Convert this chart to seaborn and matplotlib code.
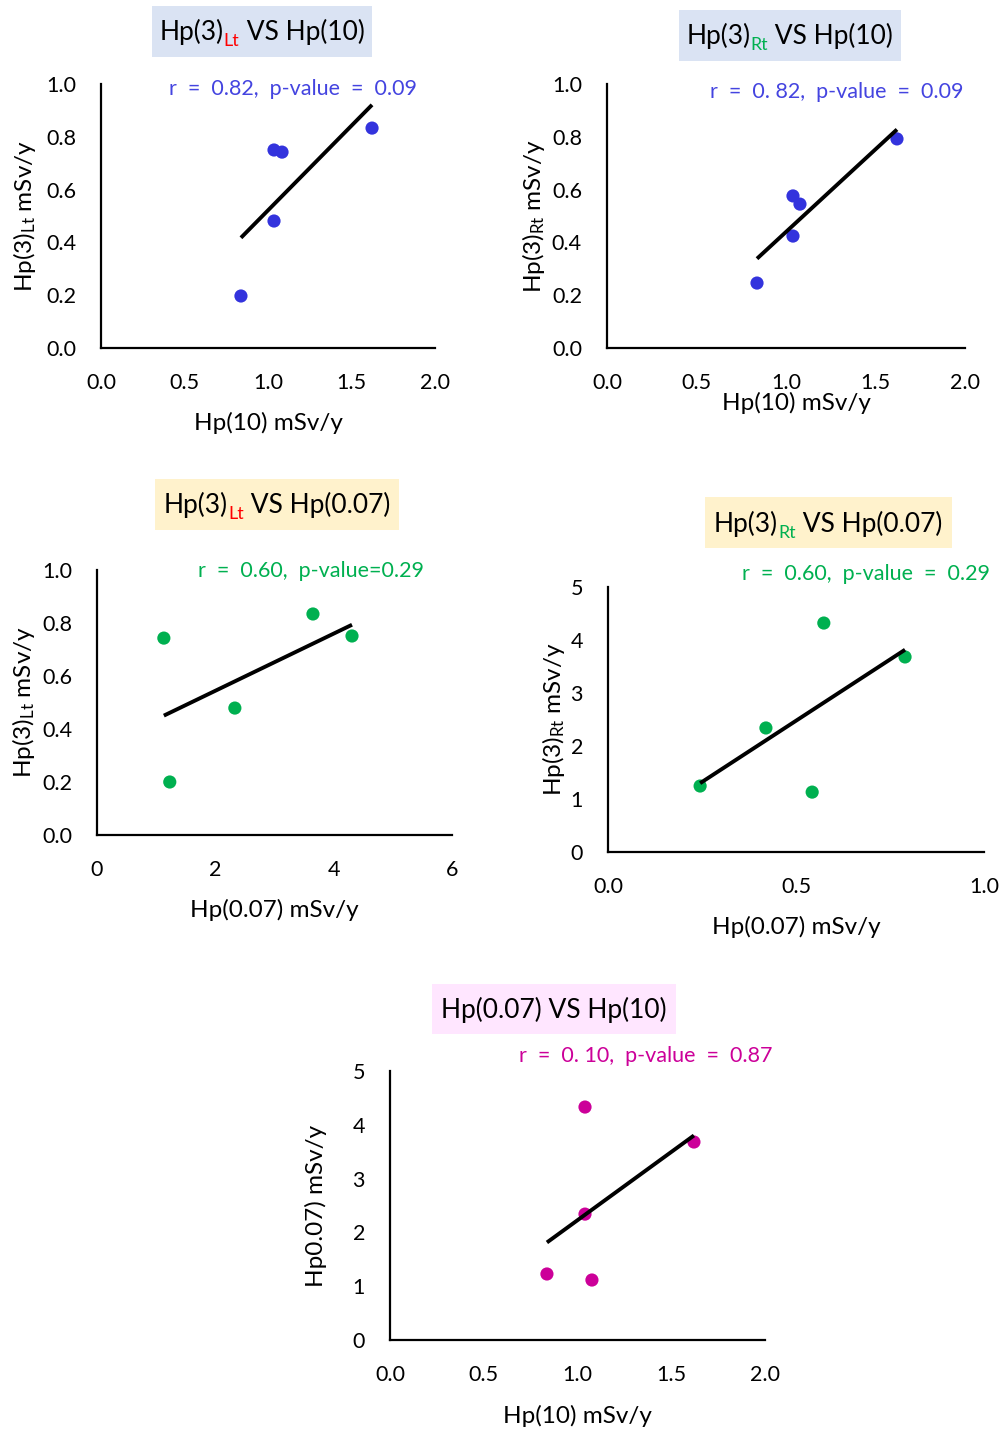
import matplotlib
matplotlib.use("Agg")
import matplotlib.pyplot as plt
import seaborn as sns
import pandas as pd
from matplotlib.patches import Rectangle

sns.set_theme(style="white")
plt.rcParams['font.family'] = ['Lato', 'DejaVu Sans']
plt.rcParams['mathtext.default'] = 'regular'

# ---------------- data ----------------
# Panel 1: Hp(3)Lt vs Hp(10)
p1_x = [0.838, 1.036, 1.084, 1.036, 1.623]
p1_y = [0.197, 0.750, 0.742, 0.481, 0.833]
# Panel 2: Hp(3)Rt vs Hp(10)
p2_x = [0.838, 1.039, 1.078, 1.039, 1.620]
p2_y = [0.246, 0.576, 0.545, 0.424, 0.792]
# Panel 3: Hp(3)Lt vs Hp(0.07)
p3_x = [1.13, 1.23, 2.33, 3.65, 4.31]
p3_y = [0.743, 0.200, 0.479, 0.834, 0.751]
# Panel 4: Hp(3)Rt vs Hp(0.07)
p4_x = [0.245, 0.420, 0.543, 0.574, 0.790]
p4_y = [1.245, 2.34, 1.13, 4.32, 3.68]
# Panel 5: Hp(0.07) vs Hp(10)
p5_x = [0.837, 1.040, 1.040, 1.077, 1.621]
p5_y = [1.227, 4.33, 2.34, 1.115, 3.68]

stats_text = [
    "r  =  0.82,  p-value  =  0.09",
    "r  =  0. 82,  p-value  =  0.09",
    "r  =  0.60,  p-value=0.29",
    "r  =  0.60,  p-value  =  0.29",
    "r  =  0. 10,  p-value  =  0.87",
]
x_ticks = [[0.0, 0.5, 1.0, 1.5, 2.0], [0.0, 0.5, 1.0, 1.5, 2.0], [0, 2, 4, 6],
           [0.0, 0.5, 1.0], [0.0, 0.5, 1.0, 1.5, 2.0]]
x_ticklabels = [["0.0", "0.5", "1.0", "1.5", "2.0"], ["0.0", "0.5", "1.0", "1.5", "2.0"],
                ["0", "2", "4", "6"], ["0.0", "0.5", "1.0"],
                ["0.0", "0.5", "1.0", "1.5", "2.0"]]
y_ticks = [[0.0, 0.2, 0.4, 0.6, 0.8, 1.0]] * 3 + [[0, 1, 2, 3, 4, 5]] * 2
y_ticklabels = [["0.0", "0.2", "0.4", "0.6", "0.8", "1.0"]] * 3 + [["0", "1", "2", "3", "4", "5"]] * 2
x_labels = ["Hp(10) mSv/y", "Hp(10) mSv/y", "Hp(0.07) mSv/y", "Hp(0.07) mSv/y", "Hp(10) mSv/y"]
y_labels = ["Hp(3)$_{Lt}$ mSv/y", "Hp(3)$_{Rt}$ mSv/y", "Hp(3)$_{Lt}$ mSv/y",
            "Hp(3)$_{Rt}$ mSv/y", "Hp0.07) mSv/y"]
titles = [
    [("Hp(3)", "black"), ("Lt", "#FF0000"), (" VS Hp(10)", "black")],
    [("Hp(3)", "black"), ("Rt", "#00B050"), (" VS Hp(10)", "black")],
    [("Hp(3)", "black"), ("Lt", "#FF0000"), (" VS Hp(0.07)", "black")],
    [("Hp(3)", "black"), ("Rt", "#00B050"), (" VS Hp(0.07)", "black")],
    [("Hp(0.07) VS Hp(10)", "black")],
]

# ---------------- styling / layout ----------------
BLUE = "#3333DD"
GREEN = "#00B050"
MAGENTA = "#CC0099"
point_colors = [BLUE, BLUE, GREEN, GREEN, MAGENTA]
text_colors = ["#4444E0", "#4444E0", GREEN, GREEN, MAGENTA]
box_colors = ["#DAE3F3", "#DAE3F3", "#FFF2CC", "#FFF2CC", "#FFE6FF"]

W, H = 1005, 1432
fig = plt.figure(figsize=(W / 100, H / 100), dpi=100)

def fx(px):
    return px / W

def fy(py):
    return 1 - py / H

# axes boxes in pixels: left, right, top, bottom
axes_px = [(101, 435, 84, 348), (607, 965, 84, 348), (97, 452, 570, 835),
           (608, 984, 587, 852), (390, 765, 1071, 1340)]
xlims = [(0, 2), (0, 2), (0, 6), (0, 1), (0, 2)]
ylims = [(0, 1), (0, 1), (0, 1), (0, 5), (0, 5)]
xlabel_pos = [(0.5, -0.242), (0.528, -0.167), (0.499, -0.2415), (0.5, -0.2415), (0.501, -0.2416)]
ylabel_pos = [(-0.189, 0.5), (-0.168, 0.5), (-0.169, 0.5), (-0.109, 0.5), (-0.168, 0.5)]
stats_pos = [(293, 89), (837, 92), (311, 571), (866, 574), (646, 1056)]
title_pos = [(262, 30), (790, 34), (277, 503), (828, 522), (554, 1008)]
title_box_px = [(152, 372, 6, 57), (679, 901, 10, 61), (155, 399, 479, 530),
                (705, 952, 497, 548), (432, 676, 984, 1034)]

datasets = [(p1_x, p1_y), (p2_x, p2_y), (p3_x, p3_y), (p4_x, p4_y), (p5_x, p5_y)]

TICK_FS = 15.5
LABEL_FS = 17.5
STAT_FS = 15.5
TITLE_FS = 19

for i, (xs, ys) in enumerate(datasets):
    l, r, t, b = axes_px[i]
    ax = fig.add_axes([fx(l), fy(b), fx(r) - fx(l), (b - t) / H])
    df = pd.DataFrame({"x": xs, "y": ys})
    sns.regplot(data=df, x="x", y="y", ax=ax, ci=None, truncate=True,
                scatter_kws=dict(s=90, color=point_colors[i], edgecolor="none", alpha=1, zorder=3),
                line_kws=dict(color="black", lw=2.8, zorder=4, solid_capstyle="butt"))
    ax.set_xlim(*xlims[i])
    ax.set_ylim(*ylims[i])
    ax.set_xticks(x_ticks[i])
    ax.set_xticklabels(x_ticklabels[i])
    ax.set_yticks(y_ticks[i])
    ax.set_yticklabels(y_ticklabels[i])
    ax.tick_params(length=0, labelsize=TICK_FS, labelcolor="black")
    ax.tick_params(axis="x", pad=18)
    ax.tick_params(axis="y", pad=18)
    for sp in ["top", "right"]:
        ax.spines[sp].set_visible(False)
    for sp in ["left", "bottom"]:
        ax.spines[sp].set_color("black")
        ax.spines[sp].set_linewidth(1.6)
    ax.set_facecolor("none")
    ax.grid(False)
    ax.set_xlabel(x_labels[i], fontsize=LABEL_FS, color="black")
    ax.set_ylabel(y_labels[i], fontsize=LABEL_FS, color="black")
    ax.xaxis.set_label_coords(*xlabel_pos[i])
    ax.yaxis.set_label_coords(*ylabel_pos[i])
    sx, sy = stats_pos[i]
    fig.text(fx(sx), fy(sy), stats_text[i], color=text_colors[i], fontsize=STAT_FS,
             ha="center", va="center")

# titles with coloured subscripts
fig.canvas.draw()
renderer = fig.canvas.get_renderer()
for i, pieces in enumerate(titles):
    bl, br, bt, bb = title_box_px[i]
    fig.patches.append(Rectangle((fx(bl), fy(bb)), fx(br) - fx(bl), (bb - bt) / H,
                                 transform=fig.transFigure, facecolor=box_colors[i],
                                 edgecolor="none", zorder=0))
    cx, cy = title_pos[i]
    objs = []
    for j, (txt, col) in enumerate(pieces):
        is_sub = (j == 1 and len(pieces) == 3)
        fs = TITLE_FS * 0.68 if is_sub else TITLE_FS
        tobj = fig.text(0, 0, txt, fontsize=fs, color=col, ha="left", va="baseline")
        ext = tobj.get_window_extent(renderer)
        objs.append((tobj, ext.width, is_sub))
    total = sum(w for _, w, _ in objs)
    base_py = cy + TITLE_FS * 1.389 * 0.36
    xstart = cx - total / 2
    for tobj, w, is_sub in objs:
        ypix = base_py + (TITLE_FS * 1.389 * 0.26 if is_sub else 0)
        tobj.set_position((fx(xstart), fy(ypix)))
        xstart += w

fig.savefig("out.png", dpi=100)
